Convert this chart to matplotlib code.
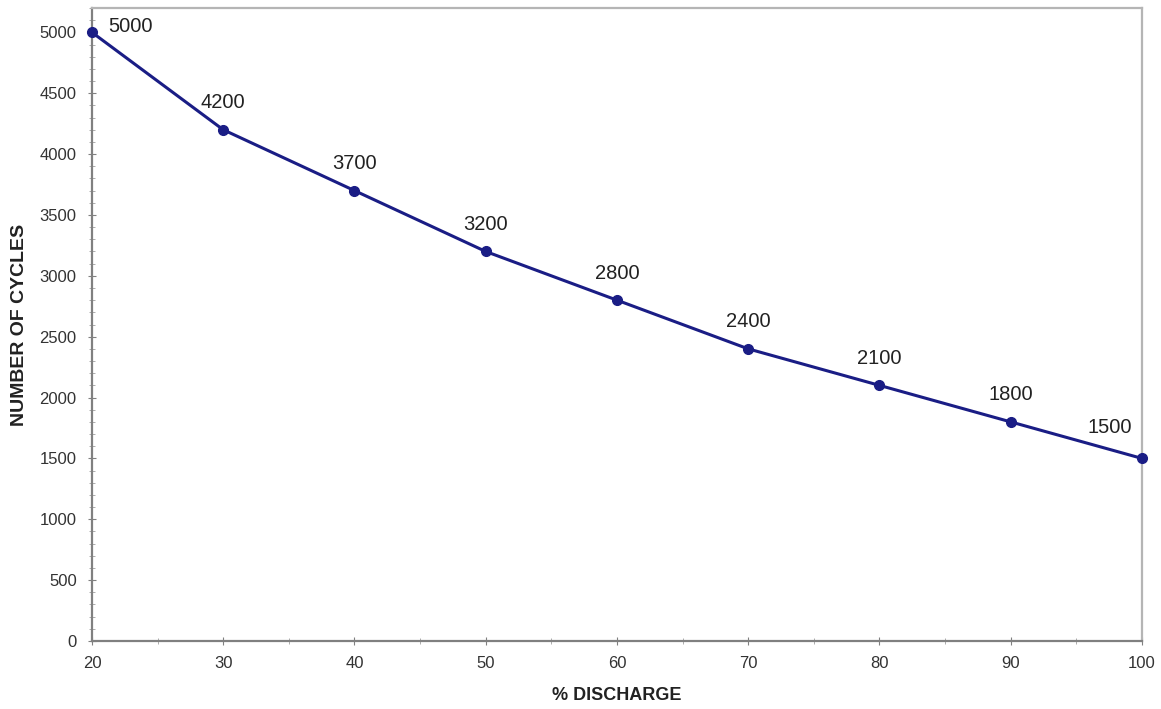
import matplotlib.pyplot as plt
from matplotlib.ticker import MultipleLocator

plt.rcParams['font.family'] = ['Liberation Sans', 'DejaVu Sans']

# depth of discharge vs cycle life
discharge = [20, 30, 40, 50, 60, 70, 80, 90, 100]
cycles = [5000, 4200, 3700, 3200, 2800, 2400, 2100, 1800, 1500]

LINE_COLOR = '#1a1d85'

fig = plt.figure(figsize=(11.61, 7.09), dpi=100)
ax = fig.add_axes([0.0792, 0.0959, 0.9044, 0.8928])

ax.plot(discharge, cycles, color=LINE_COLOR, lw=2.2, marker='o', ms=7, clip_on=False, zorder=3)

# point labels, nudged at the ends so they stay inside the frame
for x, y in zip(discharge, cycles):
    if x == discharge[0]:
        ax.annotate(str(y), (x, y), xytext=(11.5, 4.5), textcoords='offset points',
                    ha='left', va='center', fontsize=14.5, color='#222222')
    elif x == discharge[-1]:
        ax.annotate(str(y), (x, y), xytext=(-7, 22), textcoords='offset points',
                    ha='right', va='center', fontsize=14.5, color='#222222')
    else:
        ax.annotate(str(y), (x, y), xytext=(0, 19.5), textcoords='offset points',
                    ha='center', va='center', fontsize=14.5, color='#222222')

ax.set_xlim(20, 100)
ax.set_ylim(0, 5200)
ax.xaxis.set_major_locator(MultipleLocator(10))
ax.xaxis.set_minor_locator(MultipleLocator(5))
ax.yaxis.set_major_locator(MultipleLocator(500))
ax.yaxis.set_minor_locator(MultipleLocator(100))

for s in ax.spines.values():
    s.set_color('#b5b5b5')
    s.set_linewidth(1.6)
ax.spines['left'].set_color('#808080')
ax.spines['bottom'].set_color('#808080')

ax.tick_params(which='major', direction='inout', length=6, color='#808080',
               labelsize=12, labelcolor='#333333', top=False, right=False)
ax.tick_params(which='minor', direction='inout', length=4, color='#a0a0a0',
               top=False, right=False)
ax.tick_params(axis='x', pad=8)
ax.tick_params(axis='y', pad=8)

ax.set_xlabel('% DISCHARGE', fontsize=13, fontweight='bold', color='#222222', labelpad=11)
ax.set_ylabel('NUMBER OF CYCLES', fontsize=14, fontweight='bold', color='#222222', labelpad=8)

fig.savefig('out.png', dpi=100)
